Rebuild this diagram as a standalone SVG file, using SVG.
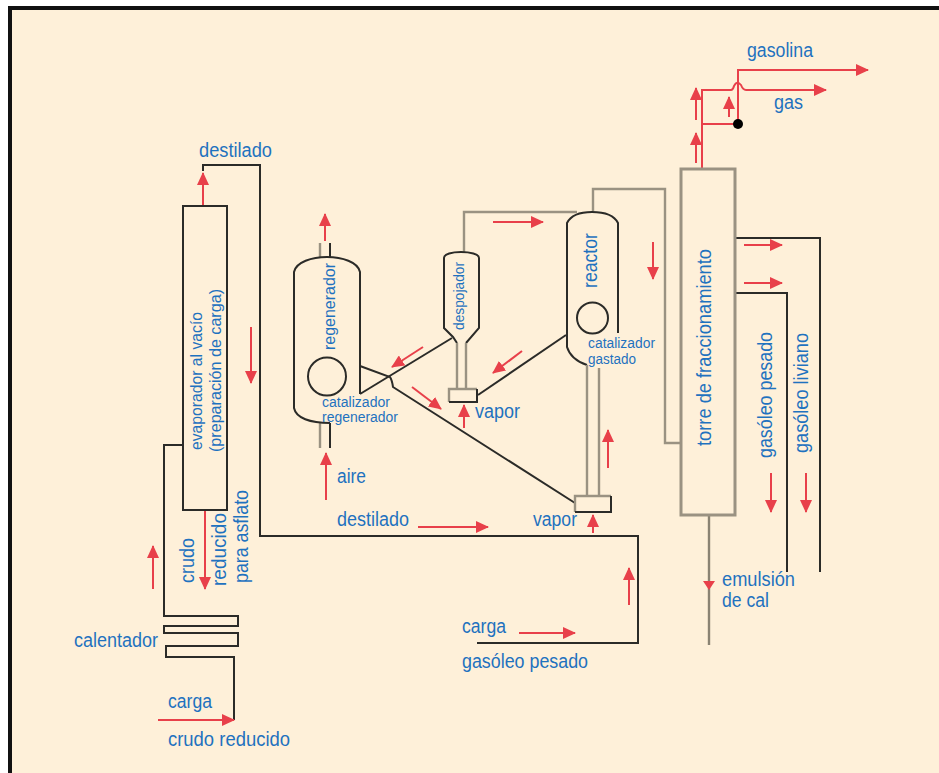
<svg xmlns="http://www.w3.org/2000/svg" width="939" height="773" viewBox="0 0 939 773">
<style>
.k{fill:none;stroke:#2b2b28;stroke-width:2}
.g{fill:none;stroke:#9a9282;stroke-width:2.4}
.r{fill:none;stroke:#e8404a;stroke-width:2}
.t{font-family:"Liberation Sans",Arial,sans-serif;font-size:20px;fill:#1f72bf}
.m{font-family:"Liberation Sans",Arial,sans-serif;font-size:17px;fill:#1f72bf}
.s{font-family:"Liberation Sans",Arial,sans-serif;font-size:14px;fill:#1f72bf}
</style>
<defs>
<marker id="a" markerUnits="userSpaceOnUse" markerWidth="14" markerHeight="12" refX="12" refY="6" orient="auto"><path d="M0 0L13 6L0 12Z" fill="#e8404a"/></marker>
</defs>
<rect width="939" height="773" fill="#fff"/>
<rect x="10" y="8" width="940" height="780" fill="#fef0d9" stroke="#111" stroke-width="4"/>
<g id="connectors">
<path class="k" d="M203 171V165H260V536H638V643H477"/>
<path class="k" d="M183 445H164V616H238V626H164V633H238V646H166V657H234V720"/>
<path class="k" d="M452 338L360 394"/>
<path class="k" d="M360 366L390 377Q392 380 393 387L575 503"/>
<path class="k" d="M566 335L478 395"/>
<path class="g" d="M464 252V212H577"/>
<path class="g" d="M593 211V189H665V443H681"/>
<path class="k" d="M735 238H820V572"/>
<path class="k" d="M735 293H787V572"/>
<path class="g" style="stroke:#8a8373" d="M709 515V645"/>
<path class="r" d="M702 168V90H731Q733 90 734 86Q737 80 741 85Q743 90 746 90H826" marker-end="url(#a)"/>
<path class="r" d="M738 124V70H868" marker-end="url(#a)"/>
<path class="r" d="M702 124H738"/>
<circle cx="738" cy="124" r="5" fill="#000"/>
<path class="r" d="M203 206V173" marker-end="url(#a)"/>
<path class="r" d="M251 327V383" marker-end="url(#a)"/>
<path class="r" d="M153 589V546" marker-end="url(#a)"/>
<path class="r" d="M205 510V589" marker-end="url(#a)"/>
<path class="r" d="M158 720H234" marker-end="url(#a)"/>
<path class="r" d="M325 241V214" marker-end="url(#a)"/>
<path class="r" d="M326 500V453" marker-end="url(#a)"/>
<path class="r" d="M423 347L392 367" marker-end="url(#a)"/>
<path class="r" d="M412 387L441 409" marker-end="url(#a)"/>
<path class="r" d="M522 351L493 373" marker-end="url(#a)"/>
<path class="r" d="M464 428V405" marker-end="url(#a)"/>
<path class="r" d="M493 222H543" marker-end="url(#a)"/>
<path class="r" d="M653 242V279" marker-end="url(#a)"/>
<path class="r" d="M608 468V430" marker-end="url(#a)"/>
<path class="r" d="M593 533V515" marker-end="url(#a)"/>
<path class="r" d="M629 605V568" marker-end="url(#a)"/>
<path class="r" d="M418 527H488" marker-end="url(#a)"/>
<path class="r" d="M519 633H575" marker-end="url(#a)"/>
<path class="r" d="M696 120V88" marker-end="url(#a)"/>
<path class="r" d="M696 163V133" marker-end="url(#a)"/>
<path class="r" d="M729 117V97" marker-end="url(#a)"/>
<path class="r" d="M744 245H782" marker-end="url(#a)"/>
<path class="r" d="M744 283H782" marker-end="url(#a)"/>
<path class="r" d="M771 473V512" marker-end="url(#a)"/>
<path class="r" d="M806 473V512" marker-end="url(#a)"/>
<path d="M703 581H715L709 590Z" fill="#e8404a"/>
</g>
<g id="evaporador">
<rect x="183" y="206" width="44" height="304" class="k"/>
<text class="m" textLength="138" lengthAdjust="spacingAndGlyphs" transform="translate(202 450) rotate(-90)">evaporador al vacío</text>
<text class="m" textLength="163" lengthAdjust="spacingAndGlyphs" transform="translate(221 452) rotate(-90)">(preparación de carga)</text>
</g>
<g id="regenerador">
<path class="k" d="M330 257V243M330 423V448"/>
<path class="g" d="M320 257V243M320 423V448"/>
<path class="k" d="M360 394V272C358 262 342 257 327 257C312 257 296 262 294 272V408C296 418 310 423 330 423"/>
<circle cx="327" cy="376.500" r="19" class="k"/>
<text class="m" textLength="87" lengthAdjust="spacingAndGlyphs" transform="translate(335 350) rotate(-90)">regenerador</text>
<text class="s" x="322" y="407" textLength="68" lengthAdjust="spacingAndGlyphs">catalizador</text>
<text class="s" x="322" y="422" textLength="76" lengthAdjust="spacingAndGlyphs">regenerador</text>
</g>
<g id="despojador">
<path class="k" d="M457 343L453 337L444 328V258C444 254 452 252 461 252C470 252 479 254 479 258V328L466 343"/>
<path class="g" d="M457 343V390M466 343V390"/>
<path class="g" d="M477 389H449V402"/>
<path class="k" d="M449 402H477V389"/>
<text class="s" textLength="68" lengthAdjust="spacingAndGlyphs" transform="translate(464 330) rotate(-90)">despojador</text>
</g>
<g id="reactor">
<path class="k" d="M618 333V223C614 215 603 212 592 212C581 212 571 215 567 223V347C570 357 578 362 587 365"/>
<path class="g" d="M587 365V497M599 368V497"/>
<path class="g" d="M611 496H575V512"/>
<path class="k" d="M575 512H611V496"/>
<circle cx="592.500" cy="318" r="15.500" class="k"/>
<text class="t" textLength="55" lengthAdjust="spacingAndGlyphs" transform="translate(597 288) rotate(-90)">reactor</text>
<text class="s" x="588" y="348" textLength="67" lengthAdjust="spacingAndGlyphs">catalizador</text>
<text class="s" x="588" y="364" textLength="48" lengthAdjust="spacingAndGlyphs">gastado</text>
</g>
<g id="torre">
<rect x="681" y="169" width="54" height="346" class="g" style="stroke-width:3"/>
<text class="t" textLength="197" lengthAdjust="spacingAndGlyphs" transform="translate(711 446) rotate(-90)">torre de fraccionamiento</text>
</g>
<g id="labels">
<text class="t" x="199" y="157" textLength="73" lengthAdjust="spacingAndGlyphs">destilado</text>
<text class="t" x="747" y="57" textLength="66" lengthAdjust="spacingAndGlyphs">gasolina</text>
<text class="t" x="774" y="109" textLength="29" lengthAdjust="spacingAndGlyphs">gas</text>
<text class="t" x="475" y="418" textLength="45" lengthAdjust="spacingAndGlyphs">vapor</text>
<text class="t" x="337" y="483" textLength="29" lengthAdjust="spacingAndGlyphs">aire</text>
<text class="t" x="337" y="526" textLength="72" lengthAdjust="spacingAndGlyphs">destilado</text>
<text class="t" x="533" y="526" textLength="44" lengthAdjust="spacingAndGlyphs">vapor</text>
<text class="t" x="462" y="633" textLength="44" lengthAdjust="spacingAndGlyphs">carga</text>
<text class="t" x="462" y="668" textLength="126" lengthAdjust="spacingAndGlyphs">gasóleo pesado</text>
<text class="t" x="74" y="647" textLength="84" lengthAdjust="spacingAndGlyphs">calentador</text>
<text class="t" x="168" y="708" textLength="44" lengthAdjust="spacingAndGlyphs">carga</text>
<text class="t" x="168" y="746" textLength="122" lengthAdjust="spacingAndGlyphs">crudo reducido</text>
<text class="t" x="722" y="586" textLength="73" lengthAdjust="spacingAndGlyphs">emulsión</text>
<text class="t" x="722" y="607" textLength="47" lengthAdjust="spacingAndGlyphs">de cal</text>
<text class="t" textLength="45" lengthAdjust="spacingAndGlyphs" transform="translate(194 583) rotate(-90)">crudo</text>
<text class="t" textLength="73" lengthAdjust="spacingAndGlyphs" transform="translate(226 586) rotate(-90)">reducido</text>
<text class="t" textLength="93" lengthAdjust="spacingAndGlyphs" transform="translate(248 583) rotate(-90)">para asflato</text>
<text class="t" textLength="126" lengthAdjust="spacingAndGlyphs" transform="translate(772 458) rotate(-90)">gasóleo pesado</text>
<text class="t" textLength="120" lengthAdjust="spacingAndGlyphs" transform="translate(808 453) rotate(-90)">gasóleo liviano</text>
</g>
</svg>
